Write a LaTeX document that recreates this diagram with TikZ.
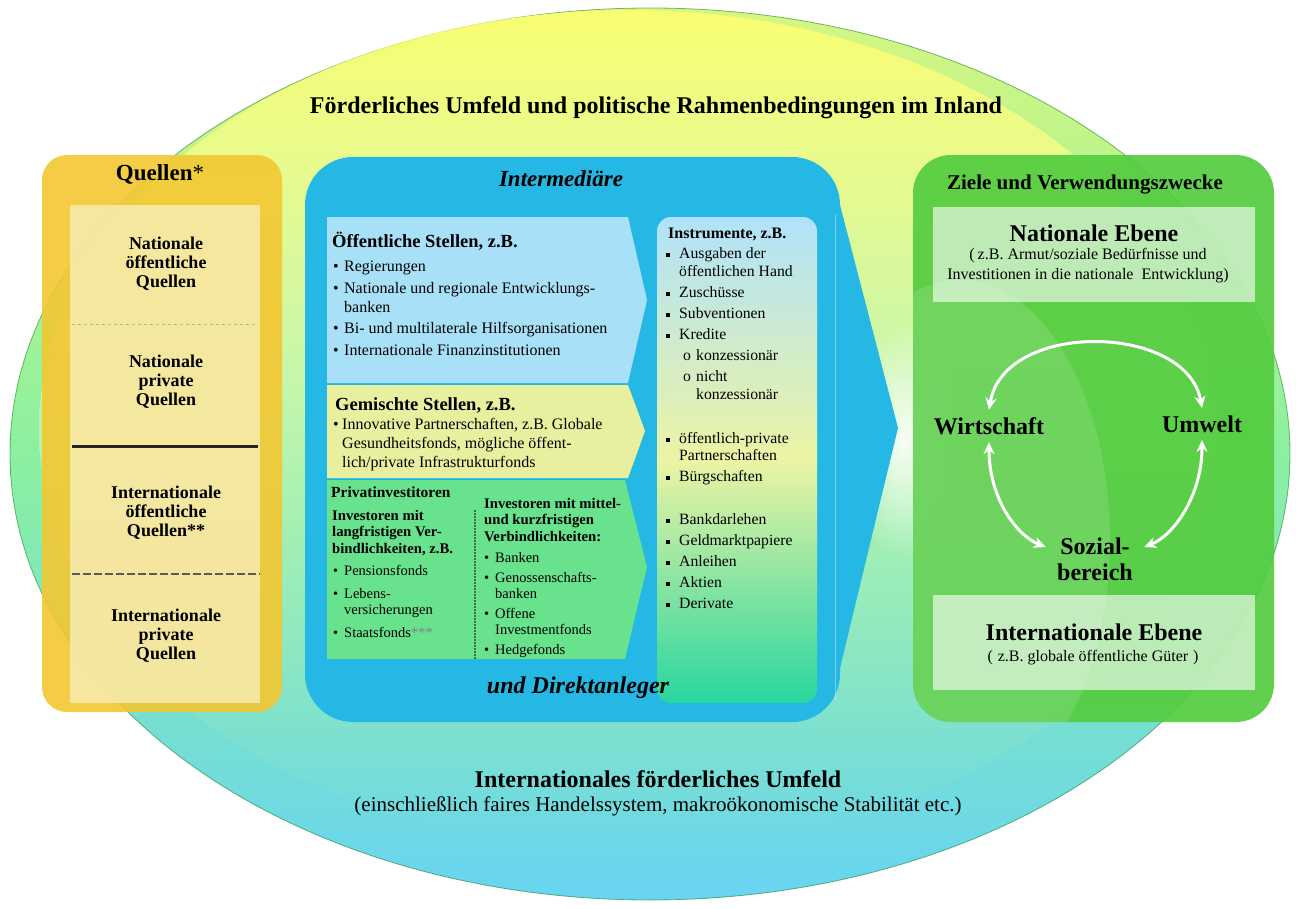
\documentclass[tikz,border=0pt]{standalone}
\usepackage{fontspec}
\setmainfont{Liberation Serif}
\usetikzlibrary{arrows.meta,positioning,fadings}

\definecolor{ellyellow}{RGB}{214,246,130}
\definecolor{ellgreen}{RGB}{140,240,160}
\definecolor{ellcyan}{RGB}{104,212,242}
\definecolor{inyellow}{RGB}{255,255,110}
\definecolor{inpale}{RGB}{246,252,196}
\definecolor{inmint}{RGB}{170,244,180}
\definecolor{quellgold}{RGB}{243,199,50}
\definecolor{quellpale}{RGB}{246,236,176}
\definecolor{interblue}{RGB}{38,184,228}
\definecolor{publicblue}{RGB}{168,224,248}
\definecolor{mixyellow}{RGB}{232,240,160}
\definecolor{privgreen}{RGB}{104,226,140}
\definecolor{insttop}{RGB}{176,226,250}
\definecolor{instmid}{RGB}{236,244,164}
\definecolor{instbot}{RGB}{40,214,160}
\definecolor{zielgreen}{RGB}{84,204,64}
\definecolor{sepgreen}{RGB}{60,110,70}

\tikzfading[name=glowfade, inner color=transparent!0, outer color=transparent!100]
\tikzfading[name=downfade, top color=transparent!0, middle color=transparent!15, bottom color=transparent!100]

\tikzset{
  bigtitle/.style={font=\fontsize{24}{28}\selectfont\bfseries},
  quellhead/.style={font=\fontsize{18}{19}\selectfont\bfseries, align=center},
  panelhead/.style={font=\fontsize{18.5}{21}\selectfont\bfseries, anchor=base west, inner sep=0pt},
  listtext/.style={font=\fontsize{16}{21.5}\selectfont, align=left, anchor=base west, inner sep=0pt},
  smallhead/.style={font=\fontsize{14.7}{16.5}\selectfont\bfseries, align=left, anchor=base west, inner sep=0pt},
  smalllist/.style={font=\fontsize{14.5}{20}\selectfont, align=left, anchor=base west, inner sep=0pt},
  ebenetext/.style={font=\fontsize{16}{20}\selectfont, align=center},
  cycleword/.style={font=\fontsize{24}{26}\selectfont\bfseries, align=center},
  cyclearrow/.style={white, line width=3pt, <->, >={Stealth[length=12pt,width=11pt]}},
}
\newcommand{\blt}{\makebox[11pt][l]{\textbullet}}
\newcommand{\sqb}{\makebox[13pt][l]{\rule[1.5pt]{4pt}{4pt}}}
\newcommand{\itemind}[1]{\hspace*{#1}}

\begin{document}
\begin{tikzpicture}[x=1pt,y=-1pt]
\useasboundingbox (0,0) rectangle (1296,908);
% background ellipses
\shade[top color=ellyellow, bottom color=ellcyan, middle color=ellgreen] (650,454) ellipse [x radius=640pt, y radius=446pt];
\draw[green!45!black, line width=0.8pt, opacity=0.5] (650,454) ellipse [x radius=640pt, y radius=446pt];
\shade[top color=inyellow, bottom color=inmint, middle color=inpale, opacity=0.85, path fading=downfade] (630,430) ellipse [x radius=590pt, y radius=420pt];
\fill[white, path fading=glowfade, fill opacity=0.9] (905,440) ellipse [x radius=60pt, y radius=120pt];

\node[bigtitle] (inland) at (656,108) {Förderliches Umfeld und politische Rahmenbedingungen im Inland};
\node[bigtitle] (intlhead) at (658,779) {Internationales förderliches Umfeld};
\node[font=\fontsize{21}{24}\selectfont] (intlnote) at (658,806) {(einschließlich faires Handelssystem, makroökonomische Stabilität etc.)};

% Quellen
\fill[quellgold, opacity=0.9, rounded corners=25pt] (42,155) rectangle (282,712);
\fill[quellpale, opacity=0.85] (70,205) rectangle (260,703);
\draw[gray!60, dashed, line width=0.6pt] (72,324) -- (258,324);
\draw[black!85, line width=3pt] (72,446) -- (258,446);
\draw[gray!70!black, line width=2pt, dash pattern=on 8pt off 3pt] (72,574) -- (260,574);
\node[font=\fontsize{23}{26}\selectfont] (quellhead) at (160,174) {\textbf{Quellen}*};
\node[quellhead] (natpub) at (166,264) {Nationale\\öffentliche\\Quellen};
\node[quellhead] (natpriv) at (166,382) {Nationale\\private\\Quellen};
\node[quellhead] (intpub) at (166,513) {Internationale\\öffentliche\\Quellen**};
\node[quellhead] (intpriv) at (166,636) {Internationale\\private\\Quellen};

% Intermediaere
\fill[interblue, rounded corners=48pt] (305,157) rectangle (840,722);
\fill[interblue] (840,205) -- (898,428) -- (840,668) -- cycle;
\draw[white, opacity=0.4, line width=1pt] (835,215) -- (835,700);
\node[font=\fontsize{23}{26}\selectfont\bfseries\itshape] (interhead) at (561,179) {Intermediäre};

\fill[publicblue] (327,217) -- (628,217) -- (647,300) -- (628,383) -- (327,383) -- cycle;
\fill[mixyellow] (327,385) -- (628,385) -- (645,431) -- (628,478) -- (327,478) -- cycle;
\fill[privgreen] (327,480) -- (625,480) -- (647,567) -- (625,659) -- (327,659) -- cycle;
\draw[sepgreen, line width=2pt, dash pattern=on 2pt off 1pt] (475,510) -- (475,660);

\node[panelhead] (pubhead) at (332,247) {Öffentliche Stellen, z.B.};
\node[listtext] (publist) at (333,355) {\blt Regierungen\\
  \blt Nationale und regionale Entwicklungs-\\[-2.5pt]
  \itemind{11pt}banken\\
  \blt Bi- und multilaterale Hilfsorganisationen\\
  \blt Internationale Finanzinstitutionen};
\node[panelhead] (mixhead) at (335,410) {Gemischte Stellen, z.B.};
\node[listtext, font=\fontsize{16}{19}\selectfont] (mixlist) at (333,467) {\makebox[9pt][l]{\textbullet}Innovative Partnerschaften, z.B. Globale\\
  \itemind{9pt}Gesundheitsfonds, mögliche öffent-\\
  \itemind{9pt}lich/private Infrastrukturfonds};
\node[smallhead, font=\fontsize{15.5}{17}\selectfont\bfseries] (privhead) at (331,497) {Privatinvestitoren};
\node[smallhead] (longhead) at (332,553) {Investoren mit\\langfristigen Ver-\\bindlichkeiten, z.B.};
\node[smalllist, font=\fontsize{14.5}{23}\selectfont] (longlist) at (333,637) {\blt Pensionsfonds\\
  \blt Lebens-\\[-7pt]
  \itemind{11pt}versicherungen\\
  \blt Staatsfonds\textcolor{gray}{***}};
\node[smallhead] (shorthead) at (484,541) {Investoren mit mittel-\\und kurzfristigen\\Verbindlichkeiten:};
\node[smalllist] (shortlist) at (484,654) {\blt Banken\\
  \blt Genossenschafts-\\[-4pt]
  \itemind{11pt}banken\\
  \blt Offene\\[-4pt]
  \itemind{11pt}Investmentfonds\\
  \blt Hedgefonds};

% Instrumente
\shade[top color=insttop, bottom color=instbot, middle color=instmid, rounded corners=14pt] (657,217) rectangle (817,703);
\node[smallhead, font=\fontsize{16}{18}\selectfont\bfseries] (insthead) at (668,238) {Instrumente, z.B.};
\node[listtext, font=\fontsize{15.7}{21}\selectfont] (instlist) at (666,608) {\sqb Ausgaben der\\[-3pt]
  \itemind{13pt}öffentlichen Hand\\
  \sqb Zuschüsse\\
  \sqb Subventionen\\
  \sqb Kredite\\
  \itemind{17pt}\makebox[13pt][l]{o}konzessionär\\
  \itemind{17pt}\makebox[13pt][l]{o}nicht\\[-3pt]
  \itemind{30pt}konzessionär\\[23pt]
  \sqb öffentlich-private\\[-4pt]
  \itemind{13pt}Partnerschaften\\
  \sqb Bürgschaften\\[22pt]
  \sqb Bankdarlehen\\
  \sqb Geldmarktpapiere\\
  \sqb Anleihen\\
  \sqb Aktien\\
  \sqb Derivate};
\node[font=\fontsize{24}{26}\selectfont\bfseries\itshape] (directhead) at (578,688) {und Direktanleger};

% Ziele
\fill[zielgreen, opacity=0.92, rounded corners=38pt] (913,155) rectangle (1274,722);
\begin{scope}
  \clip[rounded corners=38pt] (913,155) rectangle (1274,722);
  \fill[white, opacity=0.12] (960,540) ellipse [x radius=150pt, y radius=260pt];
\end{scope}
\fill[white, opacity=0.6] (933,207) rectangle (1255,302);
\fill[white, opacity=0.6] (933,595) rectangle (1255,690);
\node[font=\fontsize{21}{24}\selectfont\bfseries] (zielhead) at (1085,185) {Ziele und Verwendungszwecke};
\node[font=\fontsize{24}{28}\selectfont\bfseries] (natlevel) at (1094,233) {Nationale Ebene};
\node[ebenetext] (natnote) at (1088,266) {(\hspace{3pt}z.B. Armut/soziale Bedürfnisse und\\Investitionen in die nationale\ \ Entwicklung)};
\node[font=\fontsize{24}{28}\selectfont\bfseries] (intlevel) at (1094,632) {Internationale Ebene};
\node[ebenetext] (intnote) at (1093,658) {(\hspace{5pt}z.B. globale öffentliche Güter\hspace{5pt})};

\node[cycleword] (wirt) at (989,426) {Wirtschaft};
\node[cycleword] (umw) at (1202,424) {Umwelt};
\node[cycleword] (sozial) at (1095,559) {Sozial-\\bereich};

\draw[cyclearrow] ([yshift=4pt]wirt.north) .. controls +(15,-90) and +(-15,-85) .. ([yshift=4pt]umw.north);
\draw[cyclearrow] ([yshift=-4pt]wirt.south) .. controls +(0,55) and +(-30,-12) .. ([xshift=-8pt,yshift=12pt]sozial.west);
\draw[cyclearrow] ([yshift=-4pt]umw.south) .. controls +(0,55) and +(30,-12) .. ([xshift=8pt,yshift=12pt]sozial.east);
\end{tikzpicture}
\end{document}
